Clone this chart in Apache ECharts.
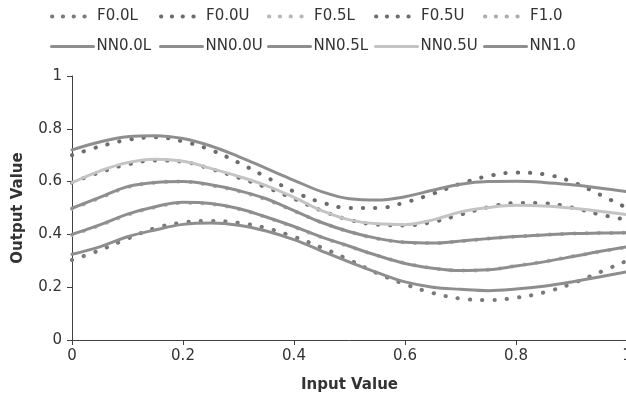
<!DOCTYPE html>
<html>
<head>
<meta charset="utf-8">
<script src="https://cdn.jsdelivr.net/npm/echarts@6/dist/echarts.min.js"></script>
<style>html,body{margin:0;padding:0;background:#fff;}#c{width:626px;height:399px;}</style>
</head>
<body>
<div id="c"></div>
<script>
var xs = [0,0.05,0.1,0.15,0.2,0.25,0.3,0.35,0.4,0.45,0.5,0.55,0.6,0.65,0.7,0.75,0.8,0.85,0.9,0.95,1];
var xTicks = ['0','0.2','0.4','0.6','0.8','1'];
var yTicks = ['0','0.2','0.4','0.6','0.8','1'];

var F00L = [0.303,0.340,0.384,0.424,0.445,0.451,0.444,0.424,0.391,0.350,0.303,0.253,0.211,0.178,0.157,0.151,0.160,0.180,0.213,0.256,0.300];
var F00U = [0.700,0.733,0.758,0.768,0.752,0.720,0.672,0.617,0.562,0.521,0.500,0.500,0.521,0.554,0.592,0.621,0.634,0.628,0.600,0.552,0.500];
var F05L = [0.398,0.434,0.474,0.503,0.519,0.515,0.496,0.465,0.428,0.389,0.354,0.320,0.291,0.272,0.263,0.266,0.281,0.297,0.316,0.334,0.352];
var F05U = [0.596,0.635,0.665,0.680,0.675,0.648,0.615,0.578,0.535,0.490,0.455,0.437,0.434,0.447,0.475,0.503,0.519,0.518,0.502,0.476,0.455];
var F10  = [0.497,0.538,0.579,0.596,0.600,0.586,0.564,0.532,0.489,0.445,0.410,0.384,0.370,0.367,0.374,0.384,0.392,0.398,0.403,0.405,0.406];

var NN00L = [0.325,0.353,0.391,0.417,0.438,0.443,0.435,0.413,0.380,0.337,0.295,0.255,0.220,0.200,0.192,0.187,0.193,0.204,0.220,0.239,0.258];
var NN00U = [0.720,0.750,0.770,0.774,0.763,0.735,0.695,0.650,0.605,0.562,0.535,0.530,0.543,0.567,0.590,0.600,0.601,0.597,0.588,0.576,0.562];
var NN05L = [0.400,0.436,0.477,0.505,0.522,0.517,0.498,0.466,0.430,0.390,0.355,0.320,0.290,0.272,0.263,0.266,0.280,0.296,0.315,0.335,0.353];
var NN05U = [0.596,0.640,0.672,0.685,0.677,0.650,0.620,0.585,0.540,0.490,0.455,0.440,0.437,0.455,0.485,0.502,0.510,0.508,0.500,0.488,0.475];
var NN10  = [0.499,0.540,0.581,0.597,0.600,0.588,0.566,0.535,0.490,0.445,0.410,0.385,0.370,0.367,0.375,0.384,0.392,0.398,0.403,0.405,0.406];

var names = ['F0.0L','F0.0U','F0.5L','F0.5U','F1.0','NN0.0L','NN0.0U','NN0.5L','NN0.5U','NN1.0'];
var values = [F00L,F00U,F05L,F05U,F10,NN00L,NN00U,NN05L,NN05U,NN10];
var colors = ['#7a7a7a','#6c6c6c','#b8b8b8','#6e6e6e','#adadad','#8e8e8e','#8e8e8e','#8e8e8e','#c4c4c4','#8e8e8e'];

var FONT = 'DejaVu Sans';
var series = names.map(function(n, i){
  var dotted = n.charAt(0) === 'F';
  return {
    name: n, type: 'line', smooth: 0.4, symbol: 'none', showSymbol: false,
    data: xs.map(function(x, j){ return [x, values[i][j]]; }),
    lineStyle: dotted ? {color: colors[i], width: 4, type: [0.3, 12], cap: 'round'}
                      : {color: colors[i], width: 3, cap: 'round'},
    itemStyle: {color: colors[i]},
    z: dotted ? 2 : 3,
    animation: false
  };
});

var cols = [50, 159, 267, 374, 483];
var legends = names.map(function(n, i){
  var dotted = i < 5;
  return {
    data: [n], left: cols[i % 5], top: dotted ? 9 : 39,
    itemWidth: 42, itemHeight: 14, itemGap: 0,
    itemStyle: {opacity: 0},
    lineStyle: dotted ? {width: 4, type: [0.3, 10.5], cap: 'round'} : {width: 3},
    textStyle: {fontFamily: FONT, fontSize: 15, color: '#333', padding: [0,0,0,-2]},
    padding: 0, selectedMode: false
  };
});

var chart = echarts.init(document.getElementById('c'), null, {renderer: 'canvas'});
chart.setOption({
  backgroundColor: '#fff',
  animation: false,
  legend: legends,
  grid: {left: 72, width: 555, top: 76, height: 264, containLabel: false, outerBoundsMode: 'none'},
  xAxis: {
    type: 'value', min: 0, max: 1, interval: 0.2,
    name: 'Input Value', nameLocation: 'middle', nameGap: 38,
    nameTextStyle: {fontFamily: FONT, fontSize: 15, fontWeight: 'bold', color: '#333'},
    axisLine: {show: true, lineStyle: {color: '#404040', width: 1}},
    axisTick: {show: true, inside: false, length: 5, lineStyle: {color: '#404040'}},
    splitLine: {show: false},
    axisLabel: {fontFamily: FONT, fontSize: 15, color: '#333', margin: 9,
      formatter: function(v){ return xTicks[Math.round(v / 0.2)]; }}
  },
  yAxis: {
    type: 'value', min: 0, max: 1, interval: 0.2,
    name: 'Output Value', nameLocation: 'middle', nameGap: 46,
    nameTextStyle: {fontFamily: FONT, fontSize: 15, fontWeight: 'bold', color: '#333'},
    axisLine: {show: true, lineStyle: {color: '#404040', width: 1}},
    axisTick: {show: true, inside: false, length: 5, lineStyle: {color: '#404040'}},
    splitLine: {show: false},
    axisLabel: {fontFamily: FONT, fontSize: 15, color: '#333', margin: 10,
      formatter: function(v){ return yTicks[Math.round(v / 0.2)]; }}
  },
  series: series
});
</script>
</body>
</html>
